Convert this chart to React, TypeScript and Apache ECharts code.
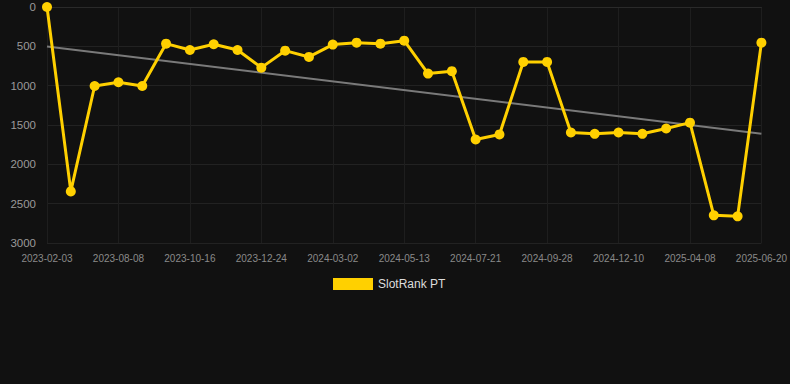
import React, { useEffect, useRef } from "react";
import * as echarts from "echarts";

const categories = [
  "2023-02-03", "2023-04-10", "2023-06-09", "2023-08-08", "2023-08-31", "2023-09-23",
  "2023-10-16", "2023-11-08", "2023-12-01", "2023-12-24", "2024-01-16", "2024-02-08",
  "2024-03-02", "2024-03-26", "2024-04-19", "2024-05-13", "2024-06-04", "2024-06-27",
  "2024-07-21", "2024-08-13", "2024-09-05", "2024-09-28", "2024-10-22", "2024-11-16",
  "2024-12-10", "2025-01-28", "2025-03-03", "2025-04-08", "2025-05-02", "2025-05-26",
  "2025-06-20",
];

const slotRankValues = [
  0, 2344, 1004, 957, 1004, 466, 547, 474, 547, 771, 555, 635,
  478, 453, 466, 428, 846, 816, 1684, 1620, 698, 698, 1595, 1612,
  1595, 1612, 1544, 1470, 2648, 2661, 453,
];

const trendEnds = [503, 1612];

const yTicks = { min: 0, max: 3000, interval: 500 };

export default function App() {
  const ref = useRef<HTMLDivElement>(null);

  useEffect(() => {
    if (!ref.current) return;
    const chart = echarts.init(ref.current, undefined, { renderer: "svg" });
    const trendData: (number | null)[] = categories.map(() => null);
    trendData[0] = trendEnds[0];
    trendData[categories.length - 1] = trendEnds[1];

    chart.setOption({
      animation: false,
      backgroundColor: "#111111",
      grid: { left: 47, right: 28, top: 7, bottom: 141, containLabel: false },
      legend: {
        data: ["SlotRank PT"],
        top: 278,
        left: 333,
        padding: 0,
        itemWidth: 40,
        itemHeight: 12,
        itemGap: 10,
        icon: "rect",
        textStyle: { color: "#dddddd", fontSize: 12, fontFamily: "Arial, Liberation Sans, sans-serif" },
      },
      xAxis: {
        type: "category",
        data: categories,
        boundaryGap: false,
        axisLine: { show: true, lineStyle: { color: "#2a2a2a" } },
        axisTick: { show: false },
        axisLabel: {
          interval: 2,
          color: "#8a8a8a",
          fontSize: 10,
          margin: 10,
          fontFamily: "Arial, Liberation Sans, sans-serif",
        },
        splitLine: { show: true, interval: 2, lineStyle: { color: "#1e1e1e", width: 1 } },
      },
      yAxis: {
        type: "value",
        inverse: true,
        min: yTicks.min,
        max: yTicks.max,
        interval: yTicks.interval,
        axisLine: { show: false },
        axisTick: { show: false },
        axisLabel: {
          color: "#9a9a9a",
          fontSize: 11.5,
          margin: 11,
          fontFamily: "Arial, Liberation Sans, sans-serif",
          formatter: (v: number) => String(v),
        },
        splitLine: { show: true, lineStyle: { color: "#222222", width: 1 } },
      },
      series: [
        {
          name: "Trend",
          type: "line",
          data: trendData,
          connectNulls: true,
          symbol: "none",
          lineStyle: { color: "#7a7a7a", width: 2 },
          z: 1,
        },
        {
          name: "SlotRank PT",
          type: "line",
          data: slotRankValues,
          symbol: "circle",
          symbolSize: 10,
          itemStyle: { color: "#ffd000" },
          lineStyle: { color: "#ffd000", width: 3 },
          z: 2,
        },
      ],
    });
    return () => chart.dispose();
  }, []);

  return (
    <div
      ref={ref}
      style={{ position: "absolute", left: 0, top: 0, width: 790, height: 384, background: "#111111" }}
    />
  );
}
